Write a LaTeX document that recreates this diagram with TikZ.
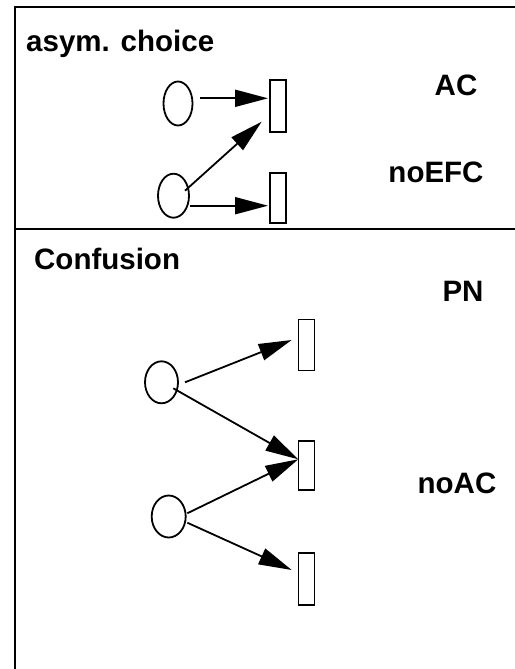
\documentclass[tikz,border=0pt]{standalone}
\usepackage{fontspec}
\setmainfont{Liberation Sans}
\usetikzlibrary{shapes.geometric,arrows.meta,calc}
\begin{document}
\begin{tikzpicture}[x=1pt,y=-1pt,
  place/.style={draw,ellipse,line width=1.8pt,inner sep=0pt},
  trans/.style={draw,rectangle,line width=1.8pt,inner sep=0pt,minimum width=16pt},
  arc/.style={line width=1.8pt,-{Triangle[length=33pt,width=17pt]}},
  lbl/.style={font=\bfseries\fontsize{29.5}{32}\selectfont,inner sep=0pt}]
\useasboundingbox (0,0) rectangle (514,669);
% frame
\draw[line width=2pt] (15,700) -- (15,7) -- (530,7);
\draw[line width=2pt] (15,229) -- (530,229);
% labels
\node[lbl,anchor=base west] (t1lbl) at (26,52) {asym. choice};
\node[lbl,anchor=base] (ac) at (456,95) {AC};
\node[lbl,anchor=base] (noefc) at (436,182) {noEFC};
\node[lbl,anchor=base west] (conf) at (34,269) {Confusion};
\node[lbl,anchor=base] (pn) at (463,301) {PN};
\node[lbl,anchor=base] (noac) at (457,493) {noAC};
% top net
\node[place,minimum width=29pt,minimum height=44pt] (p1) at (178,103.5) {};
\node[place,minimum width=31pt,minimum height=44pt] (p2) at (173.5,195.7) {};
\node[trans,minimum height=52pt] (t1) at (278,106) {};
\node[trans,minimum height=50pt] (t2) at (278,198) {};
\draw[arc] ($(p1.center)+(22,-5.2)$) -- ($(t1.center)+(-10,-7.7)$);
\draw[arc] ($(p2.center)+(11.5,-5)$) -- ($(t1.center)+(-16.3,15.7)$);
\draw[arc] ($(p2.center)+(16.5,10)$) -- ($(t2.center)+(-10,7.7)$);
% confusion net
\node[place,minimum width=33pt,minimum height=42pt] (pa) at (161.5,382.3) {};
\node[place,minimum width=34pt,minimum height=42pt] (pb) at (168.7,516.5) {};
\node[trans,minimum height=51pt] (r1) at (306.5,345) {};
\node[trans,minimum height=49pt] (r2) at (306.5,465.3) {};
\node[trans,minimum height=52pt] (r3) at (306.5,578.7) {};
\draw[arc] ($(pa.center)+(23.5,0)$) -- ($(r1.center)+(-14.8,-5)$);
\draw[arc] ($(pa.center)+(11.8,6)$) -- ($(r2.center)+(-8.2,-6)$);
\draw[arc] ($(pb.center)+(18.6,-3.2)$) -- ($(r2.center)+(-8.2,-6)$);
\draw[arc] ($(pb.center)+(18.6,6.2)$) -- ($(r3.center)+(-14.8,-8.7)$);
\end{tikzpicture}
\end{document}
